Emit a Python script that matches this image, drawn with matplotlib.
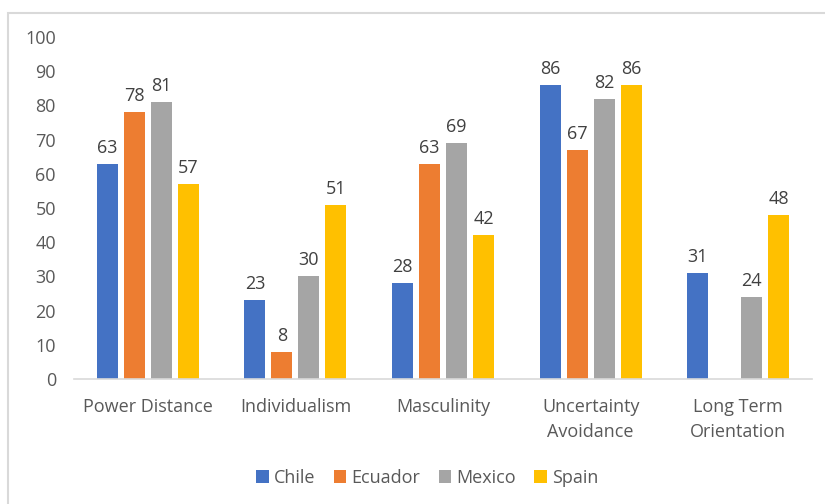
import matplotlib
matplotlib.use("Agg")
import matplotlib.pyplot as plt
import numpy as np
from matplotlib.patches import Rectangle

categories = ["Power Distance", "Individualism", "Masculinity",
              "Uncertainty\nAvoidance", "Long Term\nOrientation"]
countries = ["Chile", "Ecuador", "Mexico", "Spain"]
chile = [63, 23, 28, 86, 31]
ecuador = [78, 8, 63, 67, None]
mexico = [81, 30, 69, 82, 24]
spain = [57, 51, 42, 86, 48]
colors = ["#4472C4", "#ED7D31", "#A5A5A5", "#FFC000"]

TEXT = "#595959"
plt.rcParams["font.family"] = ["Open Sans", "DejaVu Sans"]

fig = plt.figure(figsize=(8.25, 5.04), dpi=100)
ax = fig.add_axes([0.0897, 0.248, 0.8946, 0.6786])

# chart frame (left and top edges visible)
fig.patches.append(Rectangle((8 / 825, -0.1), 1.2, 1 - 13 / 504 + 0.1,
                             transform=fig.transFigure, fill=False,
                             edgecolor="#d9d9d9", linewidth=1.5))

x = np.arange(len(categories))
pitch = 0.183
width = 0.142
for i, (name, vals) in enumerate(zip(countries, [chile, ecuador, mexico, spain])):
    pos = x + (i - 1.5) * pitch
    for xp, v in zip(pos, vals):
        if v is None:
            continue
        ax.bar(xp, v, width, color=colors[i], label=name if xp == pos[0] else None)
        ax.annotate(str(v), (xp, v), xytext=(0, 5), textcoords="offset points",
                    ha="center", va="bottom", fontsize=13, color="#404040")

ax.set_xlim(-0.5, len(categories) - 0.5)
ax.set_ylim(0, 100)
ax.set_yticks(range(0, 101, 10))
ax.set_xticks(x)
ax.set_xticklabels(categories, linespacing=1.45)
ax.tick_params(axis="both", length=0, labelsize=13, labelcolor=TEXT)
ax.tick_params(axis="y", pad=13)
ax.tick_params(axis="x", pad=14)
for s in ["top", "right", "left"]:
    ax.spines[s].set_visible(False)
ax.spines["bottom"].set_color("#d9d9d9")
ax.spines["bottom"].set_linewidth(1.2)

handles, labels = ax.get_legend_handles_labels()
fig.legend(handles, labels, loc="center", bbox_to_anchor=(0.518, 0.052), ncol=4,
           frameon=False, fontsize=13, labelcolor=TEXT, handlelength=0.7,
           handleheight=0.7, handletextpad=0.3, columnspacing=1.0)

fig.savefig("out.png", dpi=100)
